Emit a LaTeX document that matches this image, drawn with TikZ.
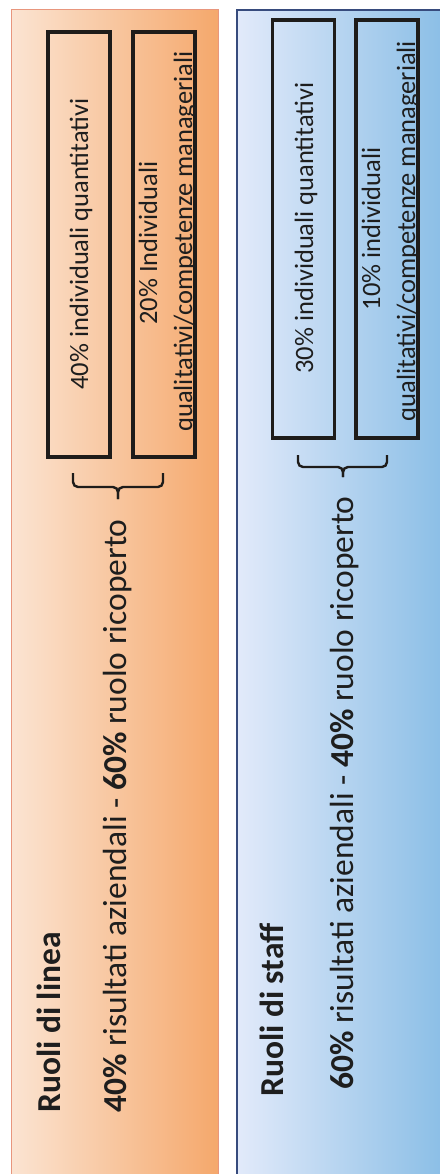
\documentclass[tikz,border=0pt]{standalone}
\usepackage{fontspec}
\setmainfont{Carlito}
\usetikzlibrary{positioning}

\definecolor{lineapale}{RGB}{251,228,210}
\definecolor{lineadeep}{RGB}{245,168,108}
\definecolor{lineaedge}{RGB}{232,150,125}
\definecolor{staffpale}{RGB}{226,234,250}
\definecolor{staffdeep}{RGB}{138,190,230}
\definecolor{staffedge}{RGB}{55,75,125}
\definecolor{boxline}{RGB}{30,28,26}
\definecolor{ink}{RGB}{30,30,30}

\begin{document}
\begin{tikzpicture}[
    x=1pt, y=-1pt,
    box/.style={rectangle, draw=boxline, line width=3.4pt, rotate=90, inner sep=0pt, minimum height=62pt},
    boxtext/.style={rotate=90, anchor=base, inner sep=0pt, text=ink, font=\fontsize{26.5}{32}\selectfont},
    heading/.style={rotate=90, anchor=base west, inner sep=0pt, text=ink, font=\fontsize{33.5}{40}\selectfont\bfseries},
    share/.style={rotate=90, anchor=base west, inner sep=0pt, text=ink, font=\fontsize{33.5}{40}\selectfont},
    brace/.style={draw=boxline, line width=2.4pt, rounded corners=5pt}
]
\useasboundingbox (0,0) rectangle (439,1174);

% Panels
\shade[left color=lineapale, right color=lineadeep] (11,10) rectangle (218,1174);
\draw[lineaedge, line width=1pt] (11,1174) -- (11,10) -- (218,10) -- (218,1174);
\shade[left color=staffpale, right color=staffdeep] (237,10) rectangle (445,1174);
\draw[staffedge, line width=1.5pt] (237,1174) -- (237,10) -- (445,10);

% Ruoli di linea
\node[heading] (lineatitle) at (60,1113) {Ruoli di linea};
\node[share] (lineashare) at (126,1113) {\textbf{40\%} risultati aziendali - \textbf{60\%} ruolo ricoperto};
\node[box, minimum width=425pt] (linea1) at (79,244.5) {};
\node[box, minimum width=425pt] (linea2) at (164,244.5) {};
\node[boxtext] (linea1text) at (88,244) {40\% individuali quantitativi};
\node[boxtext] (linea2top) at (157,243) {20\% Individuali};
\node[boxtext] (linea2bottom) at (192,241.5) {qualitativi/competenze manageriali};
\coordinate (lineatip) at (118,499);
\draw[brace] (73,473) -- (73,487) -- (lineatip |- 0,487) -- (lineatip);
\draw[brace] (163,473) -- (163,487) -- (lineatip |- 0,487) -- (lineatip);

% Ruoli di staff
\node[heading] (stafftitle) at (283,1097) {Ruoli di staff};
\node[share] (staffshare) at (353,1090) {\textbf{60\%} risultati aziendali - \textbf{40\%} ruolo ricoperto};
\node[box, minimum width=418pt] (staff1) at (303.5,229) {};
\node[box, minimum width=418pt] (staff2) at (387,229) {};
\node[boxtext] (staff1text) at (313,228) {30\% individuali quantitativi};
\node[boxtext] (staff2top) at (380,229) {10\% individuali};
\node[boxtext] (staff2bottom) at (415,231) {qualitativi/competenze manageriali};
\coordinate (stafftip) at (343,477);
\draw[brace] (298,455) -- (298,467) -- (stafftip |- 0,467) -- (stafftip);
\draw[brace] (387,455) -- (387,467) -- (stafftip |- 0,467) -- (stafftip);

\end{tikzpicture}
\end{document}
